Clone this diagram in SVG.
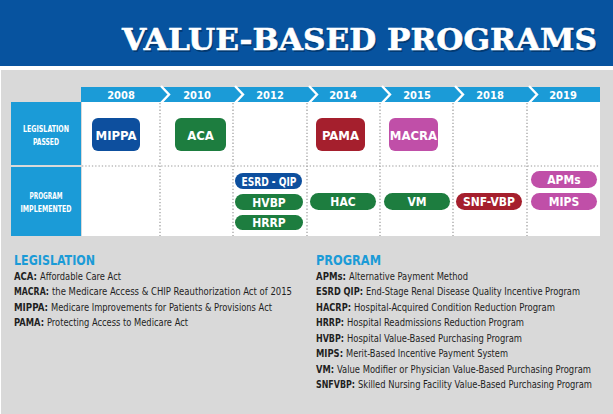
<svg xmlns="http://www.w3.org/2000/svg" width="613" height="414" viewBox="0 0 613 414">
<style>
.cond{font-family:"Liberation Sans Narrow","DejaVu Sans Condensed","Liberation Sans",sans-serif;font-stretch:condensed}
.yr{fill:#fff;font-weight:bold;font-size:11px;text-anchor:middle}
.rh{fill:#fff;font-weight:bold;font-size:9.5px;text-anchor:middle}
.bx{fill:#fff;font-weight:bold;font-size:13px;text-anchor:middle}
.pl{fill:#fff;font-weight:bold;font-size:12px;text-anchor:middle}
.lg{fill:#1f1f1f;font-size:10.5px}
.b{font-weight:bold}
.hd{fill:#1b9bd7;font-weight:bold;font-size:14px}
.dot{stroke:#9a9a9a;stroke-width:1.2;stroke-dasharray:1.3 2;fill:none}
.chev{stroke:#fff;stroke-width:2.4;fill:none}
.blue{fill:#0d4f9e}.green{fill:#1d7d3f}.red{fill:#a51f2d}.mag{fill:#c04fa8}
</style>
<rect x="0" y="0" width="613" height="414" fill="#ffffff"/>
<rect x="1" y="70" width="612" height="344" fill="#d9d9d9"/>
<rect x="0" y="0" width="613" height="66" fill="#07539f"/>
<g id="title">
<text x="123.5" y="51.5" font-family="'DejaVu Serif',serif" font-weight="900" font-size="30" textLength="475" lengthAdjust="spacingAndGlyphs" fill="#01305f" opacity="0.7">VALUE-BASED PROGRAMS</text>
<text x="122" y="50" font-family="'DejaVu Serif',serif" font-weight="900" font-size="30" textLength="475" lengthAdjust="spacingAndGlyphs" fill="#ffffff" stroke="#ffffff" stroke-width="0.6">VALUE-BASED PROGRAMS</text>
</g>
<g id="timeline">
<rect x="81" y="87" width="519" height="15" fill="#1b9bd7"/>
<rect x="82" y="102" width="518" height="134" fill="#ffffff"/>
<polyline class="chev" points="161,86 169,94.5 161,103"/>
<polyline class="chev" points="235,86 243,94.5 235,103"/>
<polyline class="chev" points="309,86 317,94.5 309,103"/>
<polyline class="chev" points="382,86 390,94.5 382,103"/>
<polyline class="chev" points="455,86 463,94.5 455,103"/>
<polyline class="chev" points="529,86 537,94.5 529,103"/>
<g class="cond">
<text class="yr" x="121" y="98.5">2008</text>
<text class="yr" x="197" y="98.5">2010</text>
<text class="yr" x="270" y="98.5">2012</text>
<text class="yr" x="343" y="98.5">2014</text>
<text class="yr" x="417" y="98.5">2015</text>
<text class="yr" x="490" y="98.5">2018</text>
<text class="yr" x="563" y="98.5">2019</text>
</g>
</g>
<g id="grid">
<line class="dot" x1="82" y1="166" x2="600" y2="166"/>
<line class="dot" x1="160" y1="103" x2="160" y2="236"/>
<line class="dot" x1="233" y1="103" x2="233" y2="236"/>
<line class="dot" x1="307" y1="103" x2="307" y2="236"/>
<line class="dot" x1="380" y1="103" x2="380" y2="236"/>
<line class="dot" x1="453" y1="103" x2="453" y2="236"/>
<line class="dot" x1="527" y1="103" x2="527" y2="236"/>
</g>
<g id="row-legislation">
<rect x="11" y="102" width="70" height="63" fill="#1b9bd7"/>
<text class="cond rh" x="46" y="132" textLength="46" lengthAdjust="spacingAndGlyphs">LEGISLATION</text>
<text class="cond rh" x="46" y="144.5" textLength="26" lengthAdjust="spacingAndGlyphs">PASSED</text>
</g>
<g id="row-program">
<rect x="11" y="167" width="70" height="69" fill="#1b9bd7"/>
<text class="cond rh" x="46" y="199" textLength="33" lengthAdjust="spacingAndGlyphs">PROGRAM</text>
<text class="cond rh" x="46" y="212" textLength="51" lengthAdjust="spacingAndGlyphs">IMPLEMENTED</text>
</g>
<g id="MIPPA"><rect class="blue" x="92" y="118" width="48" height="33" rx="6"/><text class="cond bx" x="116" y="139.5">MIPPA</text></g>
<g id="ACA"><rect class="green" x="175" y="118" width="51" height="33" rx="6"/><text class="cond bx" x="200.5" y="139.5">ACA</text></g>
<g id="PAMA"><rect class="red" x="316" y="118" width="49" height="33" rx="6"/><text class="cond bx" x="340.5" y="139.5">PAMA</text></g>
<g id="MACRA"><rect class="mag" x="389" y="118" width="49" height="33" rx="6"/><text class="cond bx" x="413.5" y="139.5">MACRA</text></g>
<g id="ESRD-QIP"><rect class="blue" x="235" y="173" width="67" height="16" rx="8"/><text class="cond pl" x="269" y="185.5" textLength="55" lengthAdjust="spacingAndGlyphs">ESRD - QIP</text></g>
<g id="HVBP"><rect class="green" x="235" y="194" width="68" height="16" rx="8"/><text class="cond pl" x="269" y="206.5">HVBP</text></g>
<g id="HRRP"><rect class="green" x="235" y="215" width="68" height="15" rx="7.5"/><text class="cond pl" x="269" y="227">HRRP</text></g>
<g id="HAC"><rect class="green" x="310" y="193" width="66" height="17" rx="8.5"/><text class="cond pl" x="343" y="206">HAC</text></g>
<g id="VM"><rect class="green" x="384" y="193" width="66" height="17" rx="8.5"/><text class="cond pl" x="417" y="206">VM</text></g>
<g id="SNF-VBP"><rect class="red" x="456" y="193" width="66" height="17" rx="8.5"/><text class="cond pl" x="489" y="206">SNF-VBP</text></g>
<g id="APMs"><rect class="mag" x="531" y="171" width="66" height="17" rx="8.5"/><text class="cond pl" x="564" y="184">APMs</text></g>
<g id="MIPS"><rect class="mag" x="531" y="193" width="66" height="17" rx="8.5"/><text class="cond pl" x="564" y="206">MIPS</text></g>
<g id="legend-legislation" class="cond lg">
<text class="hd" x="14" y="264.5" textLength="81" lengthAdjust="spacingAndGlyphs">LEGISLATION</text>
<text class="b" x="14" y="279.5" textLength="23" lengthAdjust="spacingAndGlyphs">ACA:</text>
<text x="40" y="279.5" textLength="81" lengthAdjust="spacingAndGlyphs">Affordable Care Act</text>
<text class="b" x="14" y="295" textLength="35" lengthAdjust="spacingAndGlyphs">MACRA:</text>
<text x="52" y="295" textLength="240" lengthAdjust="spacingAndGlyphs">the Medicare Access &amp; CHIP Reauthorization Act of 2015</text>
<text class="b" x="14" y="310.5" textLength="34" lengthAdjust="spacingAndGlyphs">MIPPA:</text>
<text x="51" y="310.5" textLength="221" lengthAdjust="spacingAndGlyphs">Medicare Improvements for Patients &amp; Provisions Act</text>
<text class="b" x="14" y="326" textLength="30" lengthAdjust="spacingAndGlyphs">PAMA:</text>
<text x="47" y="326" textLength="141" lengthAdjust="spacingAndGlyphs">Protecting Access to Medicare Act</text>
</g>
<g id="legend-program" class="cond lg">
<text class="hd" x="316" y="264.5" textLength="65" lengthAdjust="spacingAndGlyphs">PROGRAM</text>
<text class="b" x="316" y="279.5" textLength="30" lengthAdjust="spacingAndGlyphs">APMs:</text>
<text x="349" y="279.5" textLength="119" lengthAdjust="spacingAndGlyphs">Alternative Payment Method</text>
<text class="b" x="316" y="295" textLength="47" lengthAdjust="spacingAndGlyphs">ESRD QIP:</text>
<text x="366" y="295" textLength="214" lengthAdjust="spacingAndGlyphs">End-Stage Renal Disease Quality Incentive Program</text>
<text class="b" x="316" y="310.5" textLength="35" lengthAdjust="spacingAndGlyphs">HACRP:</text>
<text x="354" y="310.5" textLength="201" lengthAdjust="spacingAndGlyphs">Hospital-Acquired Condition Reduction Program</text>
<text class="b" x="316" y="326" textLength="28" lengthAdjust="spacingAndGlyphs">HRRP:</text>
<text x="347" y="326" textLength="177" lengthAdjust="spacingAndGlyphs">Hospital Readmissions Reduction Program</text>
<text class="b" x="316" y="341.5" textLength="28" lengthAdjust="spacingAndGlyphs">HVBP:</text>
<text x="347" y="341.5" textLength="175" lengthAdjust="spacingAndGlyphs">Hospital Value-Based Purchasing Program</text>
<text class="b" x="316" y="357" textLength="27" lengthAdjust="spacingAndGlyphs">MIPS:</text>
<text x="346" y="357" textLength="162" lengthAdjust="spacingAndGlyphs">Merit-Based Incentive Payment System</text>
<text class="b" x="316" y="372.5" textLength="18" lengthAdjust="spacingAndGlyphs">VM:</text>
<text x="337" y="372.5" textLength="254" lengthAdjust="spacingAndGlyphs">Value Modifier or Physician Value-Based Purchasing Program</text>
<text class="b" x="316" y="388" textLength="39" lengthAdjust="spacingAndGlyphs">SNFVBP:</text>
<text x="358" y="388" textLength="234" lengthAdjust="spacingAndGlyphs">Skilled Nursing Facility Value-Based Purchasing Program</text>
</g>
</svg>
